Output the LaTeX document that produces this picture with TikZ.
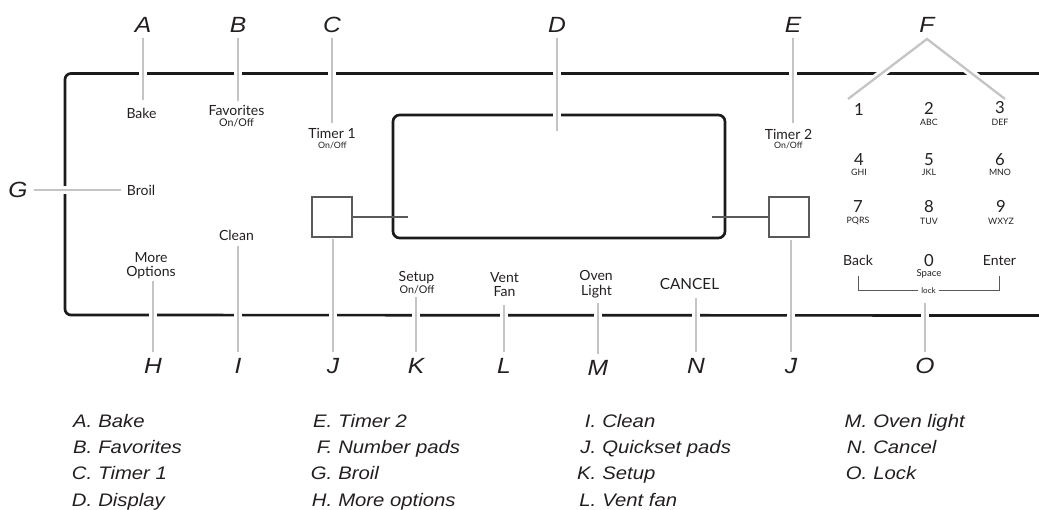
\documentclass[tikz,border=0pt]{standalone}
\usepackage{fontspec}
\setmainfont{Lato}
\newfontfamily\itfont[FakeStretch=1.12]{Liberation Sans}
\definecolor{leadgray}{HTML}{C4C4C6}
\definecolor{panelk}{HTML}{1C1A1A}
\definecolor{txt}{HTML}{231F20}
\definecolor{thingray}{HTML}{5A5A5A}
\tikzset{
  panel/.style={draw=panelk, line width=2pt},
  leader/.style={draw=leadgray, line width=1.7pt, preaction={draw=white, line width=6pt}},
  letter/.style={font=\itfont\itshape\fontsize{16.5}{18}\selectfont, inner sep=0pt, outer sep=4.5pt, text=txt},
  btn/.style={font=\fontsize{10.5}{12}\selectfont, inner sep=0pt, text=txt},
  subl/.style={font=\fontsize{6.6}{7}\selectfont, inner sep=0pt, text=txt},
  digit/.style={font=\fontsize{12.5}{14}\selectfont, inner sep=0pt, text=txt},
  legk/.style={font=\itfont\itshape\fontsize{13.6}{16}\selectfont, inner sep=0pt, anchor=base east, text=txt},
  legn/.style={font=\itfont\itshape\fontsize{13.6}{16}\selectfont, inner sep=0pt, anchor=base west, text=txt},
  thinline/.style={draw=thingray, line width=0.8pt},
  padbox/.style={draw=thingray, line width=0.8pt, minimum size=30pt, inner sep=0pt},
}
\begin{document}
\begin{tikzpicture}[x=0.75pt,y=-0.75pt]
\useasboundingbox (0,0) rectangle (1039,510);

% panel outline
\draw[panel, rounded corners=4.5pt] (1039,73.5) -- (65,73.5) -- (65,315) -- (1039,315.5);

% display
\node (disp) [draw=panelk, line width=2pt, rounded corners=5pt, minimum width=249pt, minimum height=92.25pt, inner sep=0pt] at (559,176.5) {};

% quickset pads
\node (sqL) [padbox] at (332,217) {};
\node (sqR) [padbox] at (789,217) {};
\coordinate (dL) at (408,217);
\coordinate (dR) at (712,217);
\draw[thinline] (sqL.east) -- (dL);
\draw[thinline] (sqR.west) -- (dR);

% letter labels
\node[letter] (A) at (143,24.5) {A};
\node[letter] (B) at (238,24.5) {B};
\node[letter] (C) at (332,24.5) {C};
\node[letter] (D) at (557,24.5) {D};
\node[letter] (E) at (793,24.5) {E};
\node[letter] (F) at (927,24.5) {F};
\node[letter] (G) at (18,190) {G};
\node[letter] (H) at (153,366) {H};
\node[letter] (I) at (238,366) {I};
\node[letter] (J1) at (333,366) {J};
\node[letter] (K) at (416,366) {K};
\node[letter] (L) at (504,366) {L};
\node[letter] (M) at (598,368) {M};
\node[letter] (N) at (696,366) {N};
\node[letter] (J2) at (791,366) {J};
\node[letter] (O) at (925,366) {O};

% leader end points
\coordinate (a1) at (143,100);
\coordinate (b1) at (238,101);
\coordinate (c1) at (332,123);
\coordinate (d1) at (557,131);
\coordinate (e1) at (793,123);
\coordinate (fap) at (927,39);
\coordinate (f1) at (848,99);
\coordinate (f2) at (1005,99);
\coordinate (g1) at (121,190);
\coordinate (h1) at (153,281);
\coordinate (i1) at (238,246);
\coordinate (j1) at (333,239);
\coordinate (k1) at (416,297);
\coordinate (l1) at (504,305);
\coordinate (m1) at (598,303);
\coordinate (n1) at (696,298);
\coordinate (j2) at (791,240);
\coordinate (o1) at (925,303);

% leaders
\draw[leader] (A) -- (a1);
\draw[leader] (B) -- (b1);
\draw[leader] (C) -- (c1);
\draw[leader] (D) -- (d1);
\draw[leader] (E) -- (e1);
\draw[leader] (f1) -- (fap) -- (f2);
\draw[leader] (G) -- (g1);
\draw[leader] (H) -- (h1);
\draw[leader] (I) -- (i1);
\draw[leader] (J1) -- (j1);
\draw[leader] (K) -- (k1);
\draw[leader] (L) -- (l1);
\draw[leader] (M) -- (m1);
\draw[leader] (N) -- (n1);
\draw[leader] (J2) -- (j2);
\draw[leader] (O) -- (o1);

% buttons
\node[btn] (bake) at (141.5,113) {Bake};
\node[btn] (fav) at (236.5,110.5) {Favorites};
\node[subl, font=\fontsize{8}{9}\selectfont] (favs) at (236.5,122.5) {On/Off};
\node[btn] (t1) at (332,133) {Timer 1};
\node[subl] (t1s) at (332.5,145) {On/Off};
\node[btn] (broil) at (141,190) {Broil};
\node[btn] (clean) at (236.5,235) {Clean};
\node[btn] (more) at (151,257.5) {More};
\node[btn] (opts) at (151,273) {Options};
\node[btn] (setup) at (416.5,277.5) {Setup};
\node[subl, font=\fontsize{8}{9}\selectfont] (setups) at (417,290) {On/Off};
\node[btn] (vent) at (504.5,278) {Vent};
\node[btn] (fan) at (504.5,292) {Fan};
\node[btn] (oven) at (596,275) {Oven};
\node[btn] (light) at (596.5,291.5) {Light};
\node[btn, font=\fontsize{11.5}{13}\selectfont] (cancel) at (689.5,284.5) {CANCEL};
\node[btn] (t2) at (788.5,134) {Timer 2};
\node[subl] (t2s) at (788.5,145.5) {On/Off};

% keypad
\node[digit] (k1) at (859,109.5) {1};
\node[digit] (k2) at (929,108) {2};
\node[subl] (k2s) at (929,122) {ABC};
\node[digit] (k3) at (1000,108) {3};
\node[subl] (k3s) at (1000,122) {DEF};
\node[digit] (k4) at (859,159.5) {4};
\node[subl] (k4s) at (859,172) {GHI};
\node[digit] (k5) at (929,159.5) {5};
\node[subl] (k5s) at (929,172) {JKL};
\node[digit] (k6) at (1000,159.5) {6};
\node[subl] (k6s) at (1000,172) {MNO};
\node[digit] (k7) at (858,206.5) {7};
\node[subl] (k7s) at (858,221) {PQRS};
\node[digit] (k8) at (929,206.5) {8};
\node[subl] (k8s) at (929,221) {TUV};
\node[digit] (k9) at (1001,206.5) {9};
\node[subl] (k9s) at (1001,221) {WXYZ};
\node[btn] (back) at (858,260.5) {Back};
\node[digit] (k0) at (929,260.5) {0};
\node[subl, font=\fontsize{7.2}{8}\selectfont] (k0s) at (929,273.5) {Space};
\node[btn] (enter) at (999.5,260.5) {Enter};

% lock bracket
\coordinate (lkA) at (858.3,276);
\coordinate (lkB) at (999.3,276);
\node[subl, font=\fontsize{6}{7}\selectfont, fill=white, inner xsep=2pt] (lock) at (928.5,290.5) {lock};
\draw[thinline] (lock.west) -- (lkA |- lock.west) -- (lkA);
\draw[thinline] (lock.east) -- (lkB |- lock.east) -- (lkB);

% legend
\foreach \k/\t [count=\i] in {A/Bake, B/Favorites, C/Timer 1, D/Display} {
  \node[legk] (la\i) at (92.5,{427+26.4*(\i-1)}) {\k.};
  \node[legn] (na\i) at (98,{427+26.4*(\i-1)}) {\t};
}
\foreach \k/\t [count=\i] in {E/Timer 2, F/Number pads, G/Broil, H/More options} {
  \node[legk] (lb\i) at (332.5,{427+26.4*(\i-1)}) {\k.};
  \node[legn] (nb\i) at (338,{427+26.4*(\i-1)}) {\t};
}
\foreach \k/\t [count=\i] in {I/Clean, J/Quickset pads, K/Setup, L/Vent fan} {
  \node[legk] (lc\i) at (596.5,{427+26.4*(\i-1)}) {\k.};
  \node[legn] (nc\i) at (602,{427+26.4*(\i-1)}) {\t};
}
\foreach \k/\t [count=\i] in {M/Oven light, N/Cancel, O/Lock} {
  \node[legk] (ld\i) at (867.5,{427+26.4*(\i-1)}) {\k.};
  \node[legn] (nd\i) at (873,{427+26.4*(\i-1)}) {\t};
}
\end{tikzpicture}
\end{document}
